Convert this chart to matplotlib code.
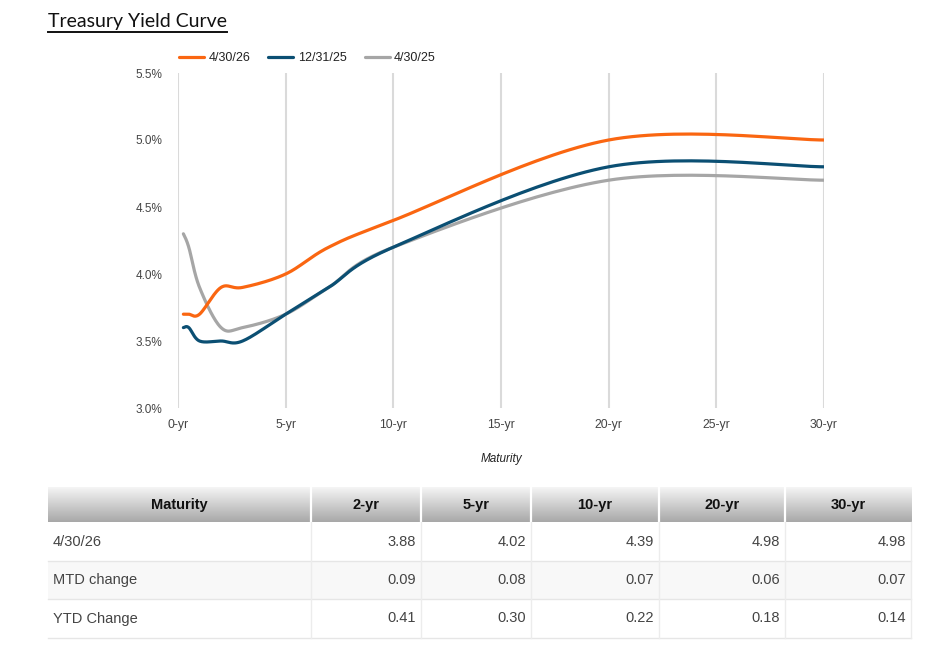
import numpy as np
import matplotlib
matplotlib.use('Agg')
from matplotlib import pyplot as plt
from matplotlib.lines import Line2D

# maturities in years and yields (%)
maturity = [0.25, 0.5, 1, 2, 3, 5, 7, 10, 20, 30]
yield_apr26 = [3.70, 3.70, 3.70, 3.90, 3.90, 4.00, 4.20, 4.40, 5.00, 5.00]
yield_dec25 = [3.60, 3.60, 3.50, 3.50, 3.50, 3.70, 3.90, 4.20, 4.80, 4.80]
yield_apr25 = [4.30, 4.20, 3.90, 3.60, 3.60, 3.70, 3.90, 4.20, 4.70, 4.70]
series_names = ['4/30/26', '12/31/25', '4/30/25']
series_colors = ['#fa6611', '#0b4f73', '#a6a6a6']

xticks = [0, 5, 10, 15, 20, 25, 30]
xtick_labels = ['0-yr', '5-yr', '10-yr', '15-yr', '20-yr', '25-yr', '30-yr']
yticks = [3.0, 3.5, 4.0, 4.5, 5.0, 5.5]

# summary table
table_cols = ['Maturity', '2-yr', '5-yr', '10-yr', '20-yr', '30-yr']
table_rows = ['4/30/26', 'MTD change', 'YTD Change']
table_vals = [['3.88', '4.02', '4.39', '4.98', '4.98'],
              ['0.09', '0.08', '0.07', '0.06', '0.07'],
              ['0.41', '0.30', '0.22', '0.18', '0.14']]

W, H = 946, 656
NARROW = ['Liberation Sans Narrow', 'Liberation Sans', 'DejaVu Sans']
ARIAL = ['Liberation Sans', 'DejaVu Sans']


def smooth(ax, xs, ys, t=1.0 / 6, n=30):
    # cardinal spline in display space, like the charting library's "function" curve
    pts = ax.transData.transform(np.column_stack([xs, ys]))
    out = [pts[0]]
    for i in range(len(pts) - 1):
        p0 = pts[max(i - 1, 0)]
        p1 = pts[i]
        p2 = pts[i + 1]
        p3 = pts[min(i + 2, len(pts) - 1)]
        c1 = p1 + (p2 - p0) * t
        c2 = p2 - (p3 - p1) * t
        s = np.linspace(0, 1, n)[1:, None]
        seg = ((1 - s) ** 3) * p1 + 3 * ((1 - s) ** 2) * s * c1 + 3 * (1 - s) * s ** 2 * c2 + s ** 3 * p2
        out.extend(seg)
    out = np.array(out)
    data = ax.transData.inverted().transform(out)
    return data[:, 0], data[:, 1]


fig = plt.figure(figsize=(W / 100, H / 100), dpi=100)
fig.patch.set_facecolor('white')

# main chart axes in pixel layout
left, right, top, bottom = 178, 824, 73, 408
ax = fig.add_axes([left / W, 1 - bottom / H, (right - left) / W, (bottom - top) / H])
ax.set_xlim(0, 30)
ax.set_ylim(3.0, 5.5)
for sp in ax.spines.values():
    sp.set_visible(False)

ax.set_xticks(xticks)
ax.set_xticklabels(xtick_labels, family=NARROW, fontsize=8.8, color='#444444')
ax.set_yticks(yticks)
ax.set_yticklabels(['%.1f%%' % v for v in yticks], family=ARIAL, fontsize=8.5, color='#444444')
ax.tick_params(axis='x', length=0, pad=8)
ax.tick_params(axis='y', length=0, pad=11)
ax.grid(axis='x', color='#dadada', linewidth=1.5)
ax.set_axisbelow(True)

handles = []
for ys, name, col in zip([yield_apr26, yield_dec25, yield_apr25], series_names, series_colors):
    sx, sy = smooth(ax, maturity, ys)
    ln, = ax.plot(sx, sy, color=col, linewidth=2.3, solid_capstyle='round', label=name)
    handles.append(ln)
# keep the first-drawn series on top
for z, ln in zip([4, 3, 2], handles):
    ln.set_zorder(z)

leg = ax.legend(handles=handles, loc='lower left', bbox_to_anchor=(-0.012, 1.0), ncol=3, frameon=False,
                prop={'family': ARIAL, 'size': 9}, handlelength=2.0, handletextpad=0.35,
                columnspacing=1.45, borderpad=0.0, borderaxespad=0.7)
for txt in leg.get_texts():
    txt.set_color('#222222')

fig.text(501 / W, 1 - 459 / H, 'Maturity', ha='center', va='center', fontsize=8.5,
         style='italic', family=NARROW, color='#222222')

# title with underline
title = fig.text(48 / W, 1 - 21 / H, 'Treasury Yield Curve', ha='left', va='center',
                 fontsize=14, family=['Lato', 'DejaVu Sans'], color='#111111')
renderer = fig.canvas.get_renderer()
bb = title.get_window_extent(renderer=renderer)
fig.add_artist(Line2D([bb.x0 / W, bb.x1 / W], [1 - 32 / H, 1 - 32 / H], transform=fig.transFigure,
                      color='#111111', linewidth=1.4))

# table drawn on a pixel-space overlay
tax = fig.add_axes([0, 0, 1, 1], zorder=-1)
tax.set_xlim(0, W)
tax.set_ylim(H, 0)
tax.axis('off')

col_edges = [48, 311, 421, 531, 659, 785, 911]
head_top, head_bot = 487, 522
row_edges = [522, 561, 599, 638]

grad = np.linspace(0, 1, 60)[:, None]
c_top = np.array([0.96, 0.96, 0.96])
c_bot = np.array([0.66, 0.66, 0.66])
img = (c_top * (1 - grad) + c_bot * grad)[:, None, :].repeat(2, axis=1)
tax.imshow(img, extent=(col_edges[0], col_edges[-1], head_bot, head_top), aspect='auto', interpolation='bilinear')
tax.set_xlim(0, W)
tax.set_ylim(H, 0)
for xe in col_edges[1:-1]:
    tax.plot([xe, xe], [head_top, head_bot], color='white', linewidth=1.6)

for i, lab in enumerate(table_cols):
    cx = (col_edges[i] + col_edges[i + 1]) / 2
    tax.text(cx, (head_top + head_bot) / 2, lab, ha='center', va='center', fontsize=10.5,
             fontweight='bold', family=NARROW, color='#111111')

row_fill = ['white', '#f8f8f8', 'white']
for r, (lab, vals) in enumerate(zip(table_rows, table_vals)):
    y0, y1 = row_edges[r], row_edges[r + 1]
    tax.fill_between([col_edges[0], col_edges[-1]], y0, y1, color=row_fill[r], linewidth=0)
    yc = (y0 + y1) / 2
    tax.text(col_edges[0] + 5, yc, lab, ha='left', va='center', fontsize=10.5, family=NARROW, color='#444444')
    for c, v in enumerate(vals):
        tax.text(col_edges[c + 2] - 5, yc, v, ha='right', va='center', fontsize=10.5,
                 family=NARROW, color='#444444')
    tax.plot([col_edges[0], col_edges[-1]], [y1, y1], color='#e6e6e6', linewidth=1)
for xe in col_edges[1:]:
    tax.plot([xe, xe], [row_edges[0], row_edges[-1]], color='#ececec', linewidth=1)

fig.savefig('out.png', dpi=100, facecolor='white')
